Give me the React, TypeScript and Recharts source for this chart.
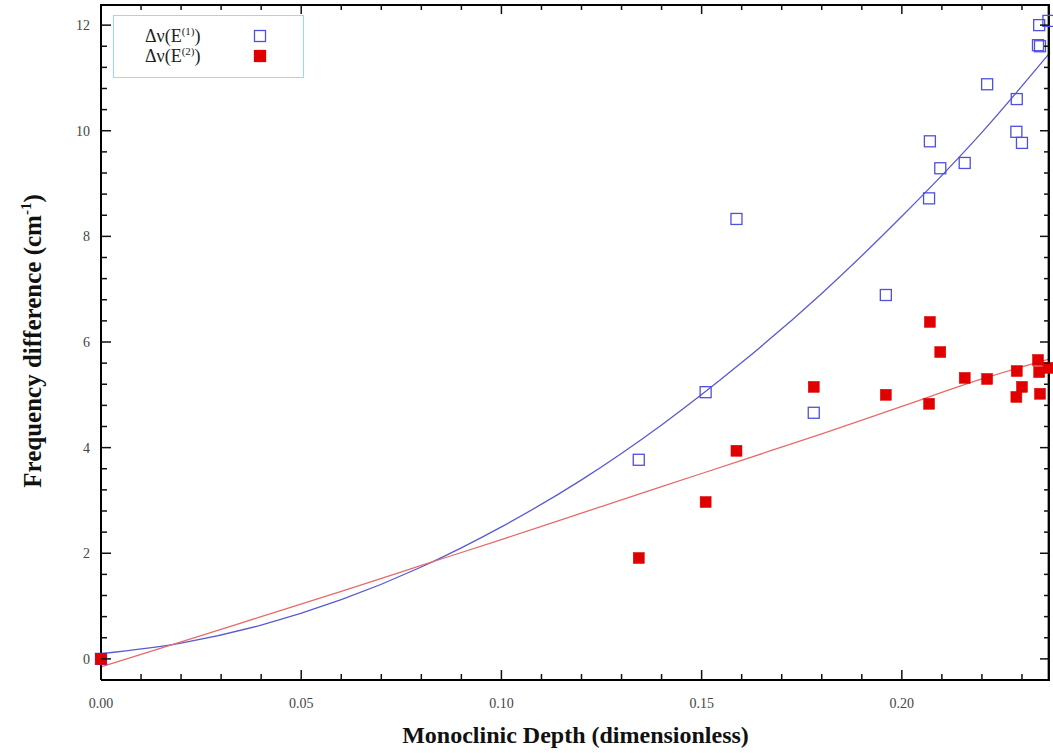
import { ComposedChart, Line, Scatter, XAxis, YAxis, ReferenceLine } from "recharts";

// Monoclinic depth of each sample and the measured splitting of both modes
const depth = [
  0, 0.1343, 0.151, 0.1587, 0.178, 0.196, 0.207, 0.2068, 0.2096, 0.2157,
  0.2213, 0.2287, 0.2286, 0.23, 0.234, 0.2343, 0.2345, 0.2366,
];
const shiftE1 = [
  0, 3.77, 5.05, 8.33, 4.66, 6.89, 9.8, 8.72, 9.29, 9.39,
  10.88, 10.6, 9.98, 9.77, 11.62, 12.0, 11.6, 12.08,
];
const shiftE2 = [
  0, 1.91, 2.97, 3.94, 5.15, 5.0, 6.38, 4.83, 5.81, 5.32,
  5.3, 5.45, 4.96, 5.15, 5.66, 5.43, 5.02, 5.51,
];

// Fitted trend curves, sampled along the depth axis
const fitDepth = [0, 0.02, 0.04, 0.06, 0.08, 0.1, 0.12, 0.14, 0.16, 0.18, 0.2, 0.22, 0.237];
const fitE1 = [0.1, 0.3, 0.64, 1.12, 1.74, 2.5, 3.39, 4.43, 5.61, 6.92, 8.38, 9.97, 11.48];
const fitE2 = [-0.15, 0.32, 0.8, 1.28, 1.77, 2.26, 2.76, 3.26, 3.76, 4.26, 4.78, 5.3, 5.68];

const xMajor = [0, 0.05, 0.1, 0.15, 0.2];
const xMajorLabels = ["0.00", "0.05", "0.10", "0.15", "0.20"];
const yMajor = [0, 2, 4, 6, 8, 10, 12];
const yMajorLabels = ["0", "2", "4", "6", "8", "10", "12"];

const X_MIN = 0;
const X_MAX = 0.237;
const Y_MIN = -0.4;
const Y_MAX = 12.4;

// minor ticks every 0.01 on x, every 0.4 on y
const xTicks = Array.from({ length: 24 }, (_, i) => i / 100);
const yTicks = Array.from({ length: 31 }, (_, i) => Math.round(i * 4) / 10);

const blueSamples = depth.map((x, i) => ({ x, y: shiftE1[i] }));
const redSamples = depth.map((x, i) => ({ x, y: shiftE2[i] }));
const blueFit = fitDepth.map((x, i) => ({ x, y: fitE1[i] }));
const redFit = fitDepth.map((x, i) => ({ x, y: fitE2[i] }));

const BLUE = "#4f4fe0";
const RED = "#e00000";
const INK = "#111";
const SERIF = '"Liberation Serif", "Times New Roman", serif';

const findMajor = (list: number[], v: number) => list.findIndex((m) => Math.abs(m - v) < 1e-6);

// tick marks on the top and right edges, anchored 10px inside the frame
const OFF = 10;
const X_OFF = 0.0025;
const Y_OFF = 0.1894;
const frameMarks = [
  ...xTicks.slice(1).map((x) => ({ x, y: Y_MAX - Y_OFF, dir: "t", major: findMajor(xMajor, x) >= 0 })),
  ...yTicks.map((y) => ({ x: X_MAX - X_OFF, y, dir: "r", major: findMajor(yMajor, y) >= 0 })),
];

const frameEdge = [
  { x: 0.0003, y: 12.381 },
  { x: 0.2367, y: 12.381 },
  { x: 0.2367, y: -0.381 },
];

const TickMark = (props: any) => {
  const { cx, cy, payload } = props;
  if (cx == null || cy == null || !payload) return <g />;
  const len = payload.major ? 10 : 6;
  const d =
    payload.dir === "t"
      ? `M${cx},${cy - OFF}L${cx},${cy - OFF + len}`
      : `M${cx + OFF},${cy}L${cx + OFF - len},${cy}`;
  return <path d={d} stroke={INK} strokeWidth={1.5} fill="none" />;
};

const BottomTick = ({ x, y, payload }: any) => {
  const idx = findMajor(xMajor, payload.value);
  const len = idx >= 0 ? 10 : 6;
  return (
    <g>
      {payload.value > 0 && <path d={`M${x},${y}L${x},${y - len}`} stroke={INK} strokeWidth={1.5} fill="none" />}
      {idx >= 0 && (
        <text x={x} y={y + 28} textAnchor="middle" fontFamily={SERIF} fontSize={14} fill="#444">
          {xMajorLabels[idx]}
        </text>
      )}
    </g>
  );
};

const LeftTick = ({ x, y, payload }: any) => {
  const idx = findMajor(yMajor, payload.value);
  const len = idx >= 0 ? 10 : 6;
  return (
    <g>
      <path d={`M${x},${y}L${x + len},${y}`} stroke={INK} strokeWidth={1.5} fill="none" />
      {idx >= 0 && (
        <text x={x - 11} y={y + 5} textAnchor="end" fontFamily={SERIF} fontSize={14} fill="#444">
          {yMajorLabels[idx]}
        </text>
      )}
    </g>
  );
};

const OpenSquare = ({ cx, cy }: any) => (
  <rect x={cx - 5.5} y={cy - 5.5} width={11} height={11} fill="none" stroke={BLUE} strokeWidth={1.3} />
);

const FilledSquare = ({ cx, cy }: any) => (
  <rect x={cx - 5.5} y={cy - 5.5} width={11} height={11} fill={RED} stroke={RED} strokeWidth={0.5} />
);

const XTitle = ({ viewBox }: any) => {
  const cx = viewBox ? viewBox.x + viewBox.width / 2 : 575;
  const top = viewBox ? viewBox.y : 680;
  return (
    <text x={cx} y={top + 63} textAnchor="middle" fontFamily={SERIF} fontWeight="bold" fontSize={24} fill={INK}>
      Monoclinic Depth (dimensionless)
    </text>
  );
};

const legendRows = [
  { sup: "(1)", filled: false },
  { sup: "(2)", filled: true },
];

// y title plus the legend box in the upper left of the plot
const YTitleAndLegend = () => (
  <g>
    <text
      x={41}
      y={341}
      transform="rotate(-90, 41, 341)"
      textAnchor="middle"
      fontFamily={SERIF}
      fontWeight="bold"
      fontSize={25}
      fill={INK}
    >
      Frequency difference (cm
      <tspan fontSize={15} dy={-10}>
        -1
      </tspan>
      <tspan dy={10}>)</tspan>
    </text>
    <rect x={113.5} y={15.5} width={190} height={62} fill="#fff" stroke="#8fe3e3" strokeWidth={1} />
    {legendRows.map((row, i) => (
      <g key={row.sup}>
        <text x={145} y={42 + i * 20} fontFamily={SERIF} fontSize={18} fill="#222">
          Δν(E
          <tspan fontSize={11} dy={-7}>
            {row.sup}
          </tspan>
          <tspan dy={7}>)</tspan>
        </text>
        <rect
          x={254.5}
          y={30.5 + i * 20}
          width={11}
          height={11}
          fill={row.filled ? RED : "none"}
          stroke={row.filled ? RED : BLUE}
          strokeWidth={1.3}
        />
      </g>
    ))}
  </g>
);

export default function App() {
  return (
    <div style={{ position: "absolute", left: 0, top: 0, width: 1053, height: 753, background: "#fff" }}>
      <ComposedChart width={1053} height={753} margin={{ top: 4, right: 3, bottom: 0, left: 0 }}>
        <XAxis
          type="number"
          dataKey="x"
          domain={[X_MIN, X_MAX]}
          ticks={xTicks}
          interval={0}
          height={73}
          tickSize={0}
          tickMargin={0}
          tickLine={false}
          tick={<BottomTick />}
          axisLine={{ stroke: "#000", strokeWidth: 2 }}
          label={<XTitle />}
        />
        <YAxis
          type="number"
          dataKey="y"
          domain={[Y_MIN, Y_MAX]}
          ticks={yTicks}
          interval={0}
          width={101}
          tickSize={0}
          tickMargin={0}
          tickLine={false}
          tick={<LeftTick />}
          axisLine={{ stroke: "#000", strokeWidth: 2 }}
          label={<YTitleAndLegend />}
        />
        <Line
          data={blueFit}
          dataKey="y"
          type="monotone"
          stroke="#5a5ad2"
          strokeWidth={1.3}
          dot={false}
          isAnimationActive={false}
        />
        <Line
          data={redFit}
          dataKey="y"
          type="monotone"
          stroke="#e86a6a"
          strokeWidth={1.3}
          dot={false}
          isAnimationActive={false}
        />
        <Scatter data={blueSamples} dataKey="y" shape={<OpenSquare />} isAnimationActive={false} />
        <Scatter data={redSamples} dataKey="y" shape={<FilledSquare />} isAnimationActive={false} />
        <ReferenceLine y={12.381} stroke="#000" strokeWidth={2} />
        <ReferenceLine x={0.2367} stroke="#000" strokeWidth={2} />
        <Scatter data={frameMarks} dataKey="y" shape={TickMark} isAnimationActive={false} />
        <Line data={frameEdge} dataKey="y" stroke="#000" strokeWidth={2} dot={false} isAnimationActive={false} />
      </ComposedChart>
    </div>
  );
}
